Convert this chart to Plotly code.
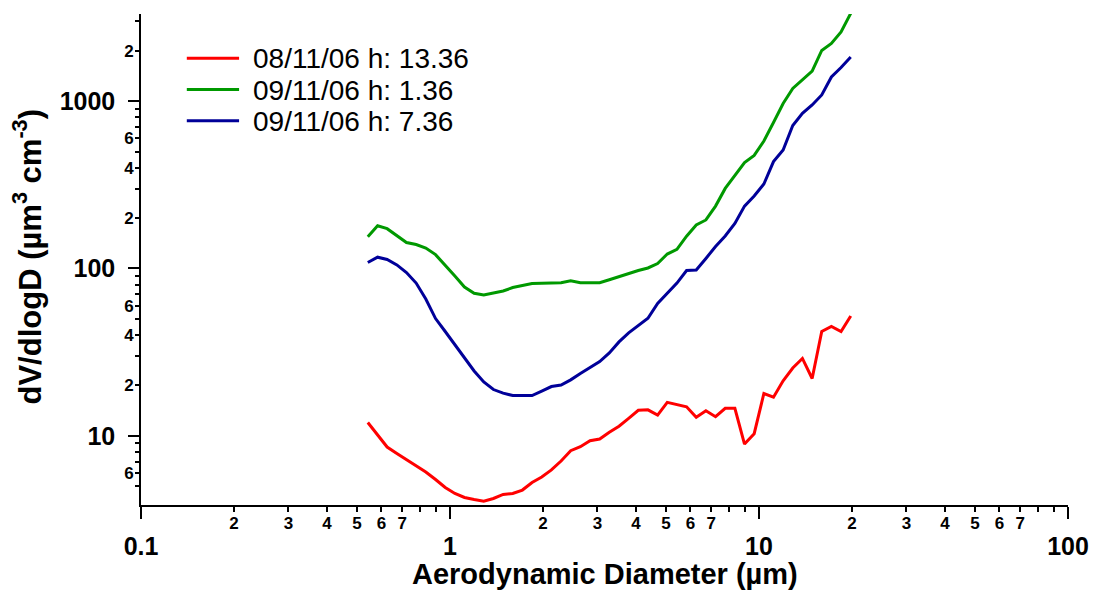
import plotly.graph_objects as go

# APS channel midpoints (aerodynamic diameter, µm)
diameter_um = [
    0.542, 0.583, 0.626, 0.673, 0.723, 0.777, 0.835, 0.898, 0.965, 1.037,
    1.114, 1.197, 1.286, 1.382, 1.486, 1.596, 1.715, 1.843, 1.981, 2.129,
    2.288, 2.458, 2.642, 2.839, 3.051, 3.278, 3.523, 3.786, 4.068, 4.371,
    4.698, 5.048, 5.425, 5.829, 6.264, 6.732, 7.234, 7.774, 8.354, 8.977,
    9.647, 10.37, 11.14, 11.97, 12.86, 13.82, 14.86, 15.96, 17.15, 18.43,
    19.81,
]

# dV/dlogD (µm³ cm⁻³) for each sampling time
dv_0811_1336 = [
    12.0, 10.1, 8.57, 7.84, 7.21, 6.65, 6.08, 5.48, 4.91, 4.52,
    4.28, 4.16, 4.07, 4.22, 4.46, 4.52, 4.74, 5.26, 5.67, 6.25,
    7.07, 8.15, 8.61, 9.35, 9.57, 10.5, 11.4, 12.7, 14.2, 14.3,
    13.3, 15.85, 15.4, 14.9, 12.9, 14.1, 13.0, 14.6, 14.6, 8.93,
    10.3, 17.9, 17.0, 21.3, 25.4, 29.0, 22.0, 42.0, 45.1, 42.0,
    52.0,
]
dv_0911_0136 = [
    155, 180, 173, 157, 143, 139, 132.6, 121, 105, 90.2,
    77.5, 71.1, 69.4, 71.4, 73.4, 76.9, 79.1, 81.3, 81.6, 81.6,
    82.2, 84.5, 82.2, 82.2, 82.2, 85.7, 89.6, 93.3, 97.2, 100.7,
    107, 122, 130, 156, 182, 195, 236, 301, 357, 430,
    474, 578, 746, 969, 1191, 1339, 1514, 2009, 2213, 2594,
    3350,
]
dv_0911_0736 = [
    108.6, 116.8, 113.2, 105, 94.6, 81.8, 65.7, 50.2, 42.0, 35.1,
    29.4, 24.4, 21.0, 18.9, 18.0, 17.4, 17.4, 17.4, 18.5, 19.7,
    20.1, 21.6, 23.6, 25.6, 27.8, 31.3, 36.4, 41.2, 45.6, 50.4,
    61.8, 71.4, 81.8, 97.2, 97.9, 114.8, 135.4, 156.3, 185.7, 236,
    271, 320, 435, 511, 716, 845, 949, 1089, 1395, 1589,
    1836,
]

series_names = ["08/11/06 h: 13.36", "09/11/06 h: 1.36", "09/11/06 h: 7.36"]
series_colors = ["#ff0000", "#009900", "#000099"]
series_values = [dv_0811_1336, dv_0911_0136, dv_0911_0736]

# Axis ticks
x_major = [0.1, 1, 10, 100]
x_major_text = ["0.1", "1", "10", "100"]
x_minor = [m * 10 ** k for k in (-1, 0, 1) for m in range(2, 10)]
x_minor_text = [str(m) if m <= 7 else "" for k in (-1, 0, 1) for m in range(2, 10)]

y_major = [10, 100, 1000]
y_major_text = ["10", "100", "1000"]
y_minor = [5, 6, 7, 8, 9] + [m * 10 ** k for k in (1, 2) for m in range(2, 10)] + [2000, 3000]
y_minor_text = (["", "6", "", "", ""]
                + [str(m) if m in (2, 4, 6) else "" for k in (1, 2) for m in range(2, 10)]
                + ["2", ""])

FONT = "Arial, Liberation Sans, sans-serif"
X_RANGE = [-1, 2]
Y_RANGE = [0.5864, 3.521]

# plot-area geometry in pixels (used to place the key and titles)
M_L, M_R, M_T, M_B = 141, 29, 14, 86
W, H = 1101, 591
PW, PH = W - M_L - M_R, H - M_T - M_B


def px_x(px):
    return (px - M_L) / PW


def px_y(py):
    return (H - M_B - py) / PH


fig = go.Figure()
for name, color, vals in zip(series_names, series_colors, series_values):
    fig.add_trace(go.Scatter(
        x=diameter_um, y=vals, name=name, mode="lines",
        line=dict(color=color, width=3), showlegend=False,
    ))

# carriers for the minor-tick overlay axes
fig.add_trace(go.Scatter(x=diameter_um, y=dv_0911_0736, xaxis="x2", yaxis="y",
                         mode="none", showlegend=False, hoverinfo="skip"))
fig.add_trace(go.Scatter(x=diameter_um, y=dv_0911_0736, xaxis="x", yaxis="y2",
                         mode="none", showlegend=False, hoverinfo="skip"))

# key: line sample + label for each series
key_rows = [58.3, 89.5, 120.7]
shapes, annotations = [], []
for name, color, row in zip(series_names, series_colors, key_rows):
    shapes.append(dict(type="line", xref="paper", yref="paper",
                       x0=px_x(187), x1=px_x(239.5), y0=px_y(row), y1=px_y(row),
                       line=dict(color=color, width=3)))
    annotations.append(dict(text=name, xref="paper", yref="paper",
                            x=px_x(251), y=px_y(row + 0.5), xanchor="left", yanchor="middle",
                            showarrow=False, font=dict(size=28, family=FONT, color="black")))

annotations += [
    dict(text="Aerodynamic Diameter (µm)", xref="paper", yref="paper",
         x=0.5, y=px_y(574), xanchor="center", yanchor="middle",
         showarrow=False, font=dict(size=29, weight="bold", family=FONT)),
    dict(text="dV/dlogD (µm<sup>3</sup> cm<sup>-3</sup>)", xref="paper", yref="paper",
         x=px_x(27), y=px_y(256), xanchor="center", yanchor="middle",
         textangle=-90, showarrow=False, font=dict(size=31, weight="bold", family=FONT)),
]

common = dict(type="log", showgrid=False, zeroline=False, ticks="outside",
              tickcolor="black", tickwidth=1.5)

fig.update_layout(
    width=W, height=H,
    margin=dict(l=M_L, r=M_R, t=M_T, b=M_B),
    paper_bgcolor="white", plot_bgcolor="white",
    font=dict(family=FONT, color="black"),
    xaxis=dict(**common, range=X_RANGE, tickvals=x_major, ticktext=x_major_text,
               ticklen=12, showline=True, linecolor="black", linewidth=1.5,
               tickfont=dict(size=25, weight="bold"), ticklabelstandoff=6),
    xaxis2=dict(**common, range=X_RANGE, overlaying="x", anchor="y", side="bottom",
                tickvals=x_minor, ticktext=x_minor_text, ticklen=6,
                showline=False, tickfont=dict(size=17, weight="bold"),
                ticklabelstandoff=-3),
    yaxis=dict(**common, range=Y_RANGE, tickvals=y_major, ticktext=y_major_text,
               ticklen=11, showline=True, linecolor="black", linewidth=1.5,
               tickfont=dict(size=25, weight="bold"), ticklabelstandoff=8),
    yaxis2=dict(**common, range=Y_RANGE, overlaying="y", anchor="x", side="left",
                tickvals=y_minor, ticktext=y_minor_text, ticklen=5,
                showline=False, tickfont=dict(size=17, weight="bold"),
                ticklabelstandoff=-2),
    showlegend=False,
    shapes=shapes,
    annotations=annotations,
)

fig.write_html("out.html")
